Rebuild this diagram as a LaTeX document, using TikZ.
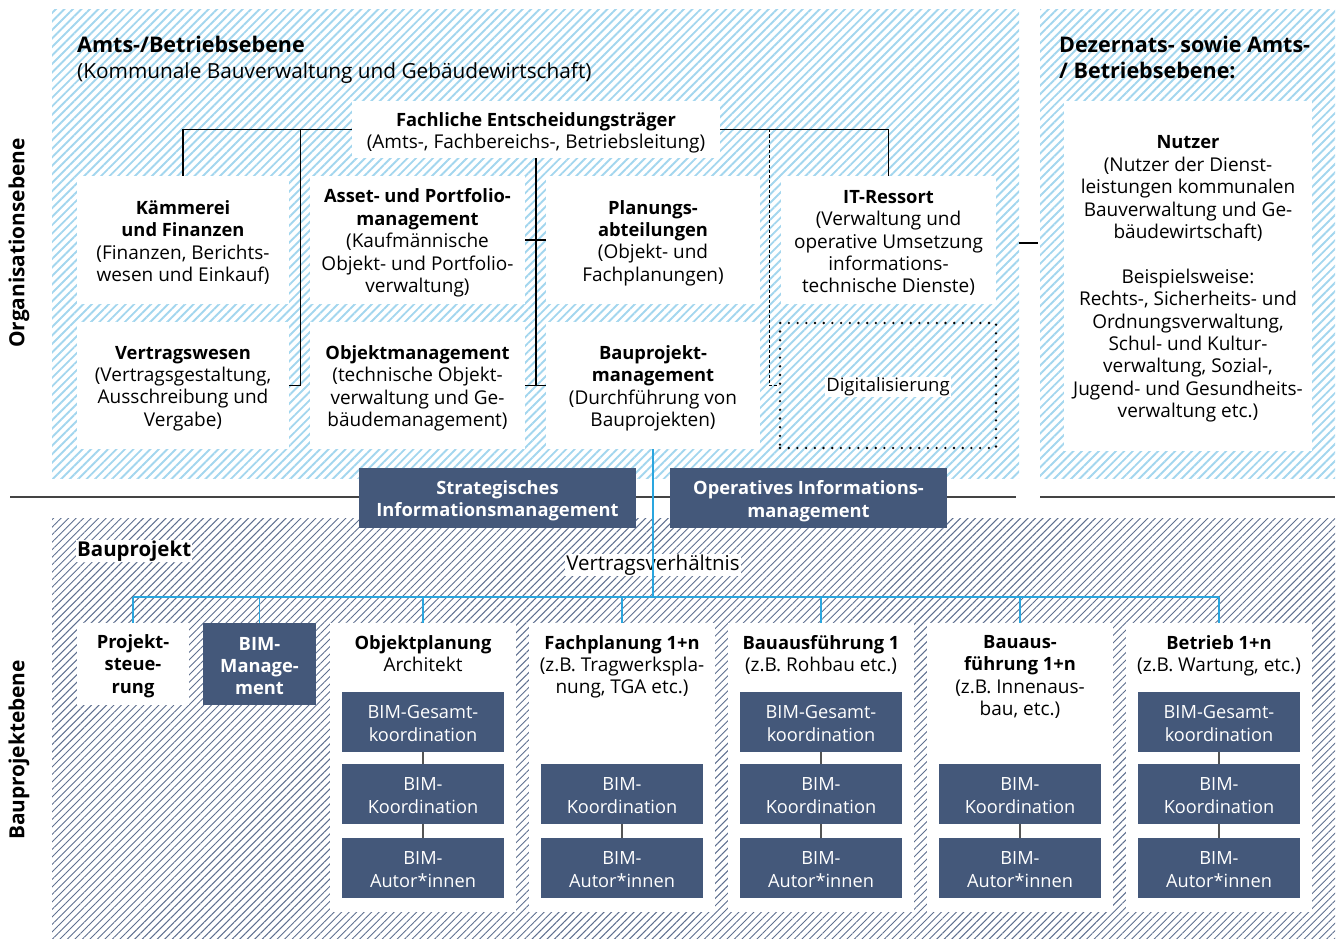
\documentclass[tikz,border=0pt]{standalone}
\usepackage{fontspec}
\setmainfont{Open Sans}[BoldFeatures={Scale=0.965}]
\usetikzlibrary{patterns.meta}
\definecolor{navy}{HTML}{44587A}
\definecolor{hlight}{HTML}{A3D6EE}
\definecolor{hdark}{HTML}{5E6F8F}
\definecolor{cblue}{HTML}{2AA6DF}
\definecolor{igray}{HTML}{555555}
\definecolor{sepgray}{HTML}{444444}
\newcommand{\myfs}{\fontsize{19}{22.4}\selectfont}
\newcommand{\myinfs}{\fontsize{18.2}{22.4}\selectfont}
\newcommand{\mytitfs}{\fontsize{20.8}{26}\selectfont}
\newcommand{\mytitbf}{\fontsize{22.3}{26}\selectfont\bfseries}
\begin{document}
\begin{tikzpicture}[x=1pt,y=-1pt,
  wbox/.style={fill=white, inner sep=0pt},
  nbox/.style={fill=navy, inner sep=0pt},
  btxt/.style={align=center, inner sep=0pt, font=\myfs},
  wtxt/.style={align=center, inner sep=0pt, text=white, font=\myinfs},
  hdr/.style={anchor=north, align=center, inner sep=0pt, font=\myfs},
  conn/.style={draw=black, line width=1.2pt},
  dconn/.style={draw=black, line width=1.1pt, dash pattern=on 3pt off 2pt},
  bconn/.style={draw=cblue, line width=1.4pt},
  iconn/.style={draw=igray, line width=1.6pt},
  sepline/.style={draw=sepgray, line width=1.5pt},
  lhatch/.style={pattern={Lines[angle=45,distance=6pt,line width=1.9pt]}, pattern color=hlight},
  dhatch/.style={pattern={Lines[angle=45,distance=5.3pt,line width=0.95pt]}, pattern color=hdark},
  digibox/.style={draw=black, line width=2.6pt, line cap=round, dash pattern=on 0pt off 8.7pt, minimum width=216, minimum height=125, inner sep=0pt},
  lbl/.style={fill=white, inner sep=1pt},
]
\useasboundingbox (0,0) rectangle (1343,939);
% backgrounds
\fill[lhatch] (52,10) rectangle (1019,478);
\fill[lhatch] (1040,10) rectangle (1335,478);
\fill[dhatch] (52,518) rectangle (1335,939);
\draw[sepline] (10,497) -- (1016,497);
\draw[sepline] (1040,497) -- (1335,497);

% side labels
\node[rotate=90, font=\fontsize{21.6}{24}\selectfont\bfseries] (lorg) at (19,243) {Organisationsebene};
\node[rotate=90, font=\fontsize{21.6}{24}\selectfont\bfseries] (lbau) at (19,750) {Bauprojektebene};

% titles
\node[anchor=west, align=left, inner sep=0pt, font=\mytitfs] (t1) at (77,60) {{\mytitbf Amts-/Betriebsebene}\\(Kommunale Bauverwaltung und Gebäudewirtschaft)};
\node[anchor=west, align=left, inner sep=0pt, font=\mytitbf] (t2) at (1059,57) {Dezernats- sowie Amts-\\/ Betriebsebene:};

% organisation level boxes
\node[wbox, minimum width=368, minimum height=57] (fach) at (536,129.5) {};
\node[wbox, minimum width=212, minimum height=128] (kam) at (183,240) {};
\node[wbox, minimum width=215, minimum height=128] (asset) at (417.5,240) {};
\node[wbox, minimum width=214, minimum height=128] (plan) at (653,240) {};
\node[wbox, minimum width=215, minimum height=128] (it) at (888.5,240) {};
\node[wbox, minimum width=212, minimum height=127] (vert) at (183,385.5) {};
\node[wbox, minimum width=215, minimum height=127] (obj) at (417.5,385.5) {};
\node[wbox, minimum width=214, minimum height=127] (baupm) at (653,385.5) {};
\node[digibox] (digi) at (888,385.5) {};
\node[wbox, minimum width=248, minimum height=349] (nutzer) at (1188,276) {};

% organisation level texts
\node[btxt] (facht) at ([yshift=-3.5pt]fach.center) {\textbf{Fachliche Entscheidungsträger}\\(Amts-, Fachbereichs-, Betriebsleitung)};
\node[btxt] (kamt) at ([yshift=-2.5pt]kam.center) {\textbf{Kämmerei}\\\textbf{und Finanzen}\\(Finanzen, Berichts-\\wesen und Einkauf)};
\node[btxt] (assett) at ([yshift=-3pt]asset.center) {\textbf{Asset- und Portfolio-}\\\textbf{management}\\(Kaufmännische\\Objekt- und Portfolio-\\verwaltung)};
\node[btxt] (plant) at ([yshift=-3pt]plan.center) {\textbf{Planungs-}\\\textbf{abteilungen}\\(Objekt- und\\Fachplanungen)};
\node[btxt] (itt) at ([yshift=-3pt]it.center) {\textbf{IT-Ressort}\\(Verwaltung und\\operative Umsetzung\\informations-\\technische Dienste)};
\node[btxt] (vertt) at ([yshift=-3pt]vert.center) {\textbf{Vertragswesen}\\(Vertragsgestaltung,\\Ausschreibung und\\Vergabe)};
\node[btxt] (objt) at ([yshift=-3pt]obj.center) {\textbf{Objektmanagement}\\(technische Objekt-\\verwaltung und Ge-\\bäudemanagement)};
\node[btxt] (baupmt) at ([yshift=-3pt]baupm.center) {\textbf{Bauprojekt-}\\\textbf{management}\\(Durchführung von\\Bauprojekten)};
\node[lbl, font=\fontsize{18.5}{22}\selectfont] (digit) at ([yshift=-1.5pt]digi.center) {Digitalisierung};
\node[btxt] (nutzert) at ([yshift=-3pt]nutzer.center) {\textbf{Nutzer}\\(Nutzer der Dienst-\\leistungen kommunalen\\Bauverwaltung und Ge-\\bäudewirtschaft)\\[22.4pt]Beispielsweise:\\Rechts-, Sicherheits- und\\Ordnungsverwaltung,\\Schul- und Kultur-\\verwaltung, Sozial-,\\Jugend- und Gesundheits-\\verwaltung etc.)};

% organisation connectors
\draw[conn] (fach.west) -| (kam.north);
\draw[conn] (fach.west) -| ([xshift=11pt]vert.east) -- (vert.east);
\draw[conn] (fach.south) -- (fach.south |- baupm.west);
\draw[conn] (asset.east) -- (plan.west);
\draw[conn] (obj.east) -- (baupm.west);
\draw[conn] (fach.east) -| (it.north);
\draw[dconn] ([xshift=-9pt]digi.west |- fach.east) -- ([xshift=-9pt]digi.west) -- (digi.west);
\coordinate (nl1) at (1019,243);
\coordinate (nl2) at (1038,243);
\draw[conn] (nl1) -- (nl2);

% information management
\node[nbox, minimum width=277, minimum height=60] (strat) at (497.5,498) {};
\node[nbox, minimum width=277, minimum height=60] (oper) at (808.5,498) {};
\node[wtxt, font=\fontsize{19}{22.4}\selectfont\bfseries] (stratt) at ([yshift=-3pt]strat.center) {Strategisches\\Informationsmanagement};
\node[wtxt, font=\fontsize{19}{22.4}\selectfont\bfseries] (opert) at ([yshift=-3pt]oper.center) {Operatives Informations-\\management};

% project level
\node[lbl, anchor=west, font=\fontsize{21.2}{24}\selectfont\bfseries] (bp) at (76,551) {Bauprojekt};
\node[lbl, font=\fontsize{20.5}{24}\selectfont] (vv) at (653,565) {Vertragsverhältnis};
\coordinate (bus) at (653,597);
\draw[bconn] (baupm.south) -- (bus);

\node[wbox, minimum width=112, minimum height=82] (ps) at (133,664) {};
\node[nbox, minimum width=113, minimum height=82] (bimm) at (259.5,664) {};
\node[btxt, font=\myfs\bfseries] (pst) at ([yshift=-2pt]ps.center) {Projekt-\\steue-\\rung};
\node[wtxt, font=\myfs\bfseries] (bimmt) at ([yshift=-2pt]bimm.center) {BIM-\\Manage-\\ment};

\foreach \i/\cx in {1/423,2/622,3/821,4/1020,5/1219}{
  \node[wbox, minimum width=186, minimum height=289] (c\i) at (\cx,767.5) {};
}
\node[hdr] (h1) at (c1.north |- 0,635) {\textbf{Objektplanung}\\Architekt};
\node[hdr] (h2) at (c2.north |- 0,635) {\textbf{Fachplanung 1+n}\\(z.B. Tragwerkspla-\\nung, TGA etc.)};
\node[hdr] (h3) at (c3.north |- 0,635) {\textbf{Bauausführung 1}\\(z.B. Rohbau etc.)};
\node[hdr] (h4) at (c4.north |- 0,635) {\textbf{Bauaus-}\\\textbf{führung 1+n}\\(z.B. Innenaus-\\bau, etc.)};
\node[hdr] (h5) at (c5.north |- 0,635) {\textbf{Betrieb 1+n}\\(z.B. Wartung, etc.)};

\foreach \i in {1,3,5}{
  \node[nbox, minimum width=162, minimum height=60] (g\i) at (c\i.north |- 0,722) {};
  \node[wtxt] (gt\i) at ([yshift=-1.5pt]g\i.center) {BIM-Gesamt-\\koordination};
}
\foreach \i in {1,2,3,4,5}{
  \node[nbox, minimum width=162, minimum height=60] (k\i) at (c\i.north |- 0,794) {};
  \node[wtxt] (kt\i) at ([yshift=-1.5pt]k\i.center) {BIM-\\Koordination};
  \node[nbox, minimum width=162, minimum height=60] (a\i) at (c\i.north |- 0,868) {};
  \node[wtxt] (at\i) at ([yshift=-1.5pt]a\i.center) {BIM-\\Autor*innen};
  \draw[iconn] (k\i.south) -- (a\i.north);
}
\foreach \i in {1,3,5}{
  \draw[iconn] (g\i.south) -- (k\i.north);
}

% blue bus
\draw[bconn] (ps.north |- bus) -- (c5.north |- bus);
\foreach \n in {ps,bimm,c1,c2,c3,c4,c5}{
  \draw[bconn] (\n.north |- bus) -- (\n.north);
}
\end{tikzpicture}
\end{document}
